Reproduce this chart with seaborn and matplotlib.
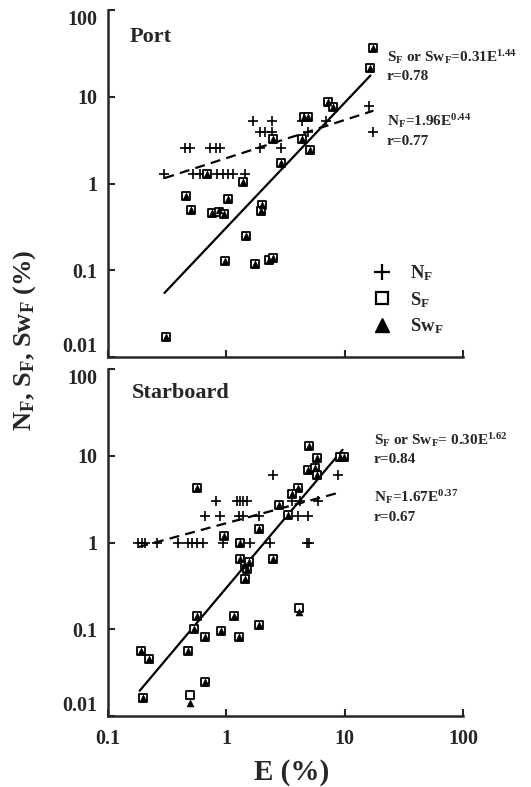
import numpy as np
import pandas as pd
import matplotlib
matplotlib.use("Agg")
import matplotlib.pyplot as plt
import seaborn as sns
from matplotlib.lines import Line2D
from matplotlib.ticker import FixedLocator, FixedFormatter, NullLocator

# ---------------- data ----------------
# Port panel
port_E_N = [0.30, 0.45, 0.49, 0.73, 0.81, 0.89, 0.525, 0.60, 0.84, 0.94, 1.04, 1.14,
            1.45, 1.69, 2.45, 1.94, 2.14, 2.45, 1.94, 2.87, 4.4, 4.9, 7.0, 16.0, 17.5]
port_N = [1.3, 2.6, 2.6, 2.6, 2.6, 2.6, 1.3, 1.3, 1.3, 1.3, 1.3, 1.3,
          1.3, 5.2, 5.2, 3.9, 3.9, 3.9, 2.6, 2.6, 5.2, 3.9, 5.2, 7.8, 3.9]
port_E_S = [0.31, 0.46, 0.50, 0.68, 0.75, 0.86, 0.96, 1.04, 1.39, 0.98, 1.47, 1.73,
            2.0, 1.98, 2.3, 2.5, 2.9, 2.5, 4.4, 5.1, 4.5, 4.9, 7.2, 7.9, 16.3, 17.3]
port_S = [0.017, 0.71, 0.49, 1.3, 0.46, 0.47, 0.44, 0.67, 1.05, 0.127, 0.25, 0.117,
          0.56, 0.48, 0.13, 0.14, 1.74, 3.3, 3.3, 2.46, 5.9, 5.9, 8.8, 7.7, 21.5, 36.6]
port_Sw = [0.017, 0.71, 0.49, 1.3, 0.46, 0.50, 0.44, 0.67, 1.05, 0.127, 0.25, 0.117,
           0.56, 0.48, 0.13, 0.14, 1.74, 3.3, 3.3, 2.46, 5.9, 5.9, 8.8, 7.7, 21.5, 36.6]

# Starboard panel
star_E_N = [0.18, 0.194, 0.206, 0.26, 0.39, 0.476, 0.515, 0.57, 0.64, 0.94, 1.31, 1.59, 2.36, 4.85, 5.0,
            0.66, 0.89, 1.27, 1.39, 1.87, 4.0, 4.9,
            0.82, 1.24, 1.31, 1.39, 1.5, 3.6, 4.2, 5.9,
            2.5, 8.7]
star_N = [1, 1, 1, 1, 1, 1, 1, 1, 1, 1, 1, 1, 1, 1, 1,
          2, 2, 2, 2, 2, 2, 2,
          3, 3, 3, 3, 3, 3, 3, 3,
          6, 6]
star_E_S = [5.0, 5.8, 9.2, 9.8, 4.9, 5.6, 5.8, 4.0, 3.6, 2.8, 3.35, 0.57, 1.9, 0.96, 1.31, 1.31,
            2.5, 1.45, 1.5, 1.55, 1.45, 4.1, 0.57, 1.17, 0.53, 0.66, 0.91, 1.29, 1.9, 0.19, 0.22,
            0.476, 0.66, 0.198, 0.49]
star_S = [13.0, 9.5, 9.75, 9.75, 6.9, 7.3, 6.05, 4.3, 3.6, 2.74, 2.1, 4.2, 1.45, 1.2, 1.0, 0.64,
          0.64, 0.55, 0.5, 0.6, 0.376, 0.175, 0.141, 0.141, 0.10, 0.081, 0.095, 0.081, 0.111, 0.056, 0.045,
          0.056, 0.0246, 0.0161, 0.0174]
star_Sw = [13.0, 9.5, 9.75, 9.75, 6.9, 7.3, 6.05, 4.3, 3.6, 2.74, 2.1, 4.2, 1.45, 1.2, 1.0, 0.64,
           0.64, 0.55, 0.5, 0.6, 0.376, 0.16, 0.141, 0.141, 0.10, 0.081, 0.095, 0.081, 0.111, 0.056, 0.045,
           0.056, 0.0246, 0.0161, 0.014]

# power-law fits: coefficient, exponent, E range
port_fit_S = (0.31, 1.44, 0.30, 16.5)
port_fit_N = (1.96, 0.44, 0.30, 17.5)
star_fit_S = (0.30, 1.62, 0.185, 9.6)
star_fit_N = (1.67, 0.37, 0.18, 8.9)

panel_titles = ["Port", "Starboard"]
eq_S = [r"S$_\mathrm{F}$ or Sw$_\mathrm{F}$=0.31E$^\mathrm{1.44}$",
        r"S$_\mathrm{F}$ or Sw$_\mathrm{F}$= 0.30E$^\mathrm{1.62}$"]
r_S = ["r=0.78", "r=0.84"]
eq_N = [r"N$_\mathrm{F}$=1.96E$^\mathrm{0.44}$", r"N$_\mathrm{F}$=1.67E$^\mathrm{0.37}$"]
r_N = ["r=0.77", "r=0.67"]

x_ticks = [0.1, 1, 10, 100]
x_ticklabels = ["0.1", "1", "10", "100"]
y_ticks = [0.01, 0.1, 1, 10, 100]
y_ticklabels = ["0.01", "0.1", "1", "10", "100"]

# ---------------- style ----------------
sns.set_style("ticks")
plt.rcParams["font.family"] = ["Liberation Serif", "DejaVu Serif"]
plt.rcParams["font.weight"] = "bold"
plt.rcParams["mathtext.fontset"] = "custom"
plt.rcParams["mathtext.rm"] = "Liberation Serif:bold"
plt.rcParams["mathtext.it"] = "Liberation Serif:bold:italic"
plt.rcParams["mathtext.bf"] = "Liberation Serif:bold"

fig = plt.figure(figsize=(5.31, 7.87), dpi=100)
W, H = 531, 787
left, right = 108 / W, 463 / W
ax_top = fig.add_axes([left, 1 - 357 / H, right - left, 347 / H])
ax_bot = fig.add_axes([left, 1 - 716 / H, right - left, 347 / H])

panels = [
    (ax_top, port_E_N, port_N, port_E_S, port_S, port_Sw, port_fit_S, port_fit_N),
    (ax_bot, star_E_N, star_N, star_E_S, star_S, star_Sw, star_fit_S, star_fit_N),
]

for i, (ax, eN, n, eS, s, sw, fS, fN) in enumerate(panels):
    dfN = pd.DataFrame({"E": eN, "V": n})
    dfS = pd.DataFrame({"E": eS, "S": s, "Sw": sw})
    # fit lines
    gS = np.geomspace(fS[2], fS[3], 60)
    gN = np.geomspace(fN[2], fN[3], 60)
    sns.lineplot(x=gS, y=fS[0] * gS ** fS[1], ax=ax, color="black", lw=1.6, zorder=2)
    sns.lineplot(x=gN, y=fN[0] * gN ** fN[1], ax=ax, color="black", lw=1.6,
                 linestyle=(0, (4.5, 2.8)), zorder=2)
    sns.scatterplot(data=dfN, x="E", y="V", ax=ax, marker="+", s=45, color="black",
                    linewidth=1.2, zorder=3)
    sns.scatterplot(data=dfS, x="E", y="S", ax=ax, marker="s", s=40, facecolor="white",
                    edgecolor="black", linewidth=1.3, zorder=4)
    sns.scatterplot(data=dfS, x="E", y="Sw", ax=ax, marker="^", s=24, color="black",
                    edgecolor="black", linewidth=0.5, zorder=5)

    ax.set_xscale("log")
    ax.set_yscale("log")
    ax.set_xlim(0.1, 100)
    ax.set_ylim(0.01, 100)
    ax.xaxis.set_major_locator(FixedLocator(x_ticks))
    ax.yaxis.set_major_locator(FixedLocator(y_ticks))
    ax.xaxis.set_minor_locator(NullLocator())
    ax.yaxis.set_minor_locator(NullLocator())
    ax.yaxis.set_major_formatter(FixedFormatter(y_ticklabels))
    if i == 1:
        ax.xaxis.set_major_formatter(FixedFormatter(x_ticklabels))
    else:
        ax.set_xticklabels([])
    ax.tick_params(direction="in", length=5, width=1.5, labelsize=14.5, pad=8)
    ax.tick_params(axis="x", pad=9)
    sns.despine(ax=ax)
    for sp in ["left", "bottom"]:
        ax.spines[sp].set_linewidth(1.8)
    ax.set_xlabel("")
    ax.set_ylabel("")

    ax.text(0.062 if i == 0 else 0.068, 0.922 if i == 0 else 0.931, panel_titles[i],
            transform=ax.transAxes, fontsize=16, fontweight="bold", va="center", ha="left")

    tx = 0.786 if i == 0 else 0.749
    ys = [0.865, 0.807, 0.680, 0.622] if i == 0 else [0.795, 0.738, 0.631, 0.573]
    for txt, yy in zip([eq_S[i], r_S[i], eq_N[i], r_N[i]], ys):
        ax.text(tx, yy, txt, transform=ax.transAxes, fontsize=11, fontweight="bold",
                va="center", ha="left")

# legend in top panel
handles = [
    Line2D([], [], marker="+", linestyle="none", color="black", markersize=12, markeredgewidth=1.6),
    Line2D([], [], marker="s", linestyle="none", markerfacecolor="white", markeredgecolor="black",
           markersize=9, markeredgewidth=1.6),
    Line2D([], [], marker="^", linestyle="none", color="black", markersize=10),
]
labels = [r"N$_\mathrm{F}$", r"S$_\mathrm{F}$", r"Sw$_\mathrm{F}$"]
leg = ax_top.legend(handles, labels, loc="center left", bbox_to_anchor=(0.72, 0.165),
                    frameon=False, fontsize=13.5, handletextpad=0.9, labelspacing=0.35,
                    handlelength=1.2, borderaxespad=0)
for t in leg.get_texts():
    t.set_fontweight("bold")

fig.text(292 / W, 1 - 772 / H, "E (%)", fontsize=21, fontweight="bold", ha="center", va="center")
fig.text(25 / W, 1 - 340 / H, r"N$_\mathrm{F}$, S$_\mathrm{F}$, Sw$_\mathrm{F}$ (%)", fontsize=19,
         fontweight="bold", rotation=90, ha="center", va="center")

# align extreme y tick labels like the reference (0.01 sits on the axis, 100 hangs below top)
fig.canvas.draw()
for ax in (ax_top, ax_bot):
    for tk in ax.yaxis.get_major_ticks():
        tk.label1.set_fontweight("bold")
        txt = tk.label1.get_text()
        if txt == "0.01":
            tk.label1.set_verticalalignment("bottom")
        elif txt == "100":
            tk.label1.set_verticalalignment("top")
    for tk in ax.xaxis.get_major_ticks():
        tk.label1.set_fontweight("bold")

fig.savefig("out.png", dpi=100)
